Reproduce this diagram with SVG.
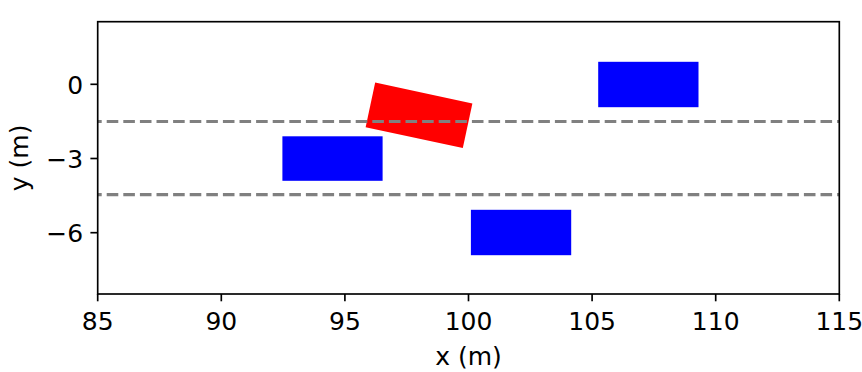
<svg xmlns="http://www.w3.org/2000/svg" width="862" height="372" viewBox="0 0 862 372">
  <style>
    .tick { stroke: #000; stroke-width: 1.67; }
    .lbl { font-family: "DejaVu Sans", sans-serif; font-size: 25px; fill: #000; }
    .lane { stroke: #808080; stroke-width: 3.1; stroke-dasharray: 11.6 5; stroke-dashoffset: 7.6; fill: none; }
    .ego { fill: #ff0000; }
    .car { fill: #0000ff; }
  </style>
  <rect x="0" y="0" width="862" height="372" fill="#ffffff"/>
  <defs>
    <clipPath id="ax"><rect x="97.7" y="21.7" width="741.6" height="272.3"/></clipPath>
  </defs>
  <g id="car-left"><rect class="car" x="282.4" y="136.3" width="100.2" height="44.5"/></g>
  <g id="car-right"><rect class="car" x="598.2" y="61.8" width="100.3" height="45.4"/></g>
  <g id="car-bottom"><rect class="car" x="470.9" y="209.8" width="100.3" height="45.4"/></g>
  <g id="ego"><rect class="ego" x="-49.7" y="-22.8" width="99.4" height="45.6" transform="translate(419 115.3) rotate(12.1)"/></g>
  <g id="lanes" clip-path="url(#ax)">
    <line class="lane" x1="97.7" y1="121.5" x2="839.3" y2="121.5"/>
    <line class="lane" x1="97.7" y1="194.6" x2="839.3" y2="194.6"/>
  </g>
  <g id="axes">
    <rect x="97.7" y="21.7" width="741.6" height="272.3" fill="none" stroke="#000" stroke-width="1.67"/>
    <g id="xticks">
      <line class="tick" x1="97.7" y1="294" x2="97.7" y2="301.3"/>
      <line class="tick" x1="221.3" y1="294" x2="221.3" y2="301.3"/>
      <line class="tick" x1="344.9" y1="294" x2="344.9" y2="301.3"/>
      <line class="tick" x1="468.5" y1="294" x2="468.5" y2="301.3"/>
      <line class="tick" x1="592.1" y1="294" x2="592.1" y2="301.3"/>
      <line class="tick" x1="715.7" y1="294" x2="715.7" y2="301.3"/>
      <line class="tick" x1="839.3" y1="294" x2="839.3" y2="301.3"/>
      <text class="lbl" x="97.7" y="329.5" text-anchor="middle">85</text>
      <text class="lbl" x="221.3" y="329.5" text-anchor="middle">90</text>
      <text class="lbl" x="344.9" y="329.5" text-anchor="middle">95</text>
      <text class="lbl" x="468.5" y="329.5" text-anchor="middle">100</text>
      <text class="lbl" x="592.1" y="329.5" text-anchor="middle">105</text>
      <text class="lbl" x="715.7" y="329.5" text-anchor="middle">110</text>
      <text class="lbl" x="839.3" y="329.5" text-anchor="middle">115</text>
    </g>
    <g id="yticks">
      <line class="tick" x1="90.4" y1="84.3" x2="97.7" y2="84.3"/>
      <line class="tick" x1="90.4" y1="158.5" x2="97.7" y2="158.5"/>
      <line class="tick" x1="90.4" y1="232.7" x2="97.7" y2="232.7"/>
      <text class="lbl" x="83.2" y="93.6" text-anchor="end">0</text>
      <text class="lbl" x="83.2" y="167.8" text-anchor="end">−3</text>
      <text class="lbl" x="83.2" y="242" text-anchor="end">−6</text>
    </g>
    <text class="lbl" x="468.5" y="365" text-anchor="middle">x (m)</text>
    <text class="lbl" x="0" y="0" text-anchor="middle" transform="translate(28 157.9) rotate(-90)">y (m)</text>
  </g>
</svg>
